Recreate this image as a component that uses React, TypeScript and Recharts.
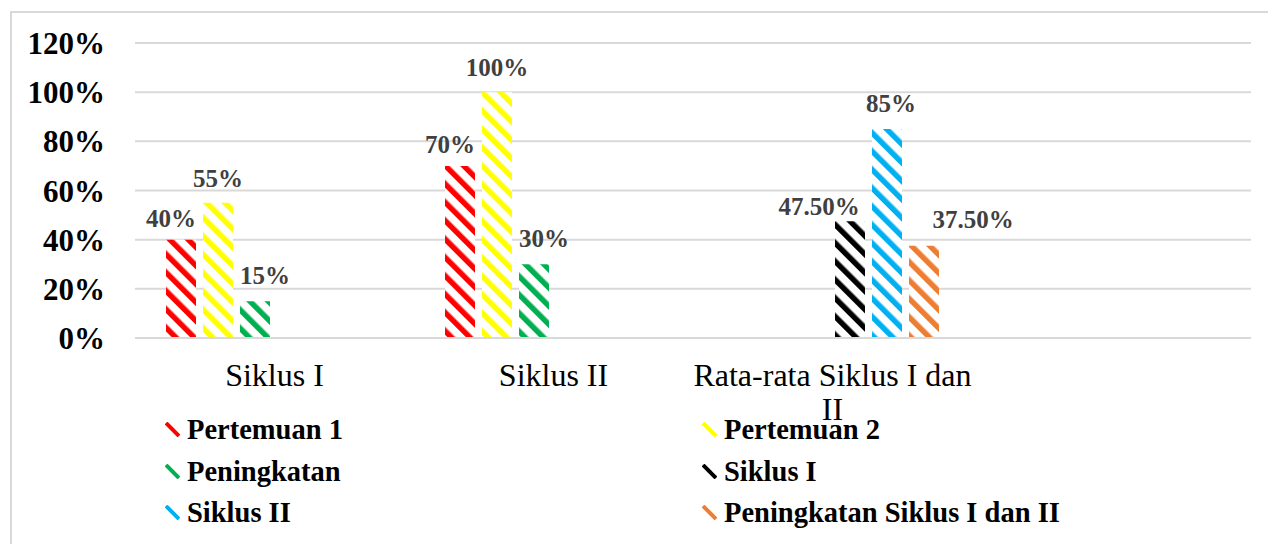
import React from 'react';
import { BarChart, Bar, XAxis, YAxis, CartesianGrid, LabelList } from 'recharts';

const FONT = '"Liberation Serif", "Times New Roman", serif';

// categories on the x axis (the last slot is empty, as in the original sheet)
const categories = ['Siklus I', 'Siklus II', 'Rata-rata Siklus I dan II', ''];

// values in percent
const pertemuan1 = [40, 70, null, null];
const pertemuan2 = [55, 100, null, null];
const peningkatan = [15, 30, null, null];
const siklus1 = [null, null, 47.5, null];
const siklus2 = [null, null, 85, null];
const peningkatanSiklus = [null, null, 37.5, null];

const yTicks = [0, 20, 40, 60, 80, 100, 120];

// label nudges copy the hand-placed labels of the original
const series = [
  { key: 'p1', name: 'Pertemuan 1', values: pertemuan1, color: '#ff0000', dx: -10, dy: 13 },
  { key: 'p2', name: 'Pertemuan 2', values: pertemuan2, color: '#ffff00', dx: 0, dy: 16 },
  { key: 'pen', name: 'Peningkatan', values: peningkatan, color: '#00b050', dx: 10, dy: 17 },
  { key: 's1', name: 'Siklus I', values: siklus1, color: '#000000', dx: -31, dy: 6 },
  { key: 's2', name: 'Siklus II', values: siklus2, color: '#00b0f0', dx: 4, dy: 17 },
  { key: 'ps', name: 'Peningkatan Siklus I dan II', values: peningkatanSiklus, color: '#ed7d31', dx: 49, dy: 18 },
];

const data = categories.map((name, i) => {
  const row: Record<string, any> = { name };
  series.forEach((s) => {
    row[s.key] = s.values[i];
  });
  return row;
});

const fmt = (v: number) => (Number.isInteger(v) ? `${v}%` : `${v.toFixed(2)}%`);

const X_FONT_SIZE = 32;
const X_WRAP = 279;

let ctx: CanvasRenderingContext2D | null = null;
function wrap(text: string, maxWidth: number): string[] {
  if (!ctx) ctx = document.createElement('canvas').getContext('2d');
  if (!ctx) return [text];
  ctx.font = `${X_FONT_SIZE}px ${FONT}`;
  const lines: string[] = [];
  let cur = '';
  text.split(' ').forEach((w) => {
    const next = cur ? `${cur} ${w}` : w;
    if (cur && ctx!.measureText(next).width > maxWidth) {
      lines.push(cur);
      cur = w;
    } else {
      cur = next;
    }
  });
  if (cur) lines.push(cur);
  return lines;
}

const XTick = (props: any) => {
  const { x, y, payload } = props;
  const lines = wrap(String(payload.value), X_WRAP);
  return (
    <text x={x} y={y + 40} textAnchor="middle" fill="#000" fontFamily={FONT} fontSize={X_FONT_SIZE}>
      {lines.map((l, i) => (
        <tspan key={i} x={x} dy={i === 0 ? 0 : 34}>
          {l}
        </tspan>
      ))}
    </text>
  );
};

const makeLabel = (dx: number, dy: number) => (props: any) => {
  const { x, y, width, value } = props;
  if (value == null) return null;
  return (
    <text
      x={x + width / 2 + dx}
      y={y - dy}
      textAnchor="middle"
      fill="#404040"
      fontFamily={FONT}
      fontWeight="bold"
      fontSize={25}
    >
      {fmt(value)}
    </text>
  );
};

function Legend() {
  return (
    <div
      style={{
        position: 'absolute',
        left: 165,
        top: 409,
        display: 'grid',
        gridTemplateColumns: '537px auto',
        fontFamily: FONT,
        fontWeight: 'bold',
        fontSize: 28.5,
        lineHeight: '41.5px',
        color: '#000',
      }}
    >
      {series.map((s) => (
        <div key={s.key} style={{ display: 'flex', alignItems: 'center', whiteSpace: 'nowrap' }}>
          <svg width={15} height={15} style={{ marginRight: 7, flexShrink: 0 }}>
            <line x1={1} y1={1} x2={14} y2={14} stroke={s.color} strokeWidth={4} />
          </svg>
          <span>{s.name}</span>
        </div>
      ))}
    </div>
  );
}

export default function App() {
  return (
    <div style={{ position: 'fixed', left: 0, top: 0, width: 1268, height: 544, background: '#fff', overflow: 'hidden' }}>
      <div
        style={{
          position: 'absolute',
          left: 10,
          top: 11,
          width: 1400,
          height: 700,
          border: '2px solid #d9d9d9',
        }}
      />
      <div style={{ position: 'absolute', left: 0, top: 0 }}>
        <BarChart
          width={1268}
          height={544}
          data={data}
          margin={{ top: 43, right: 17, left: 10, bottom: 0 }}
          barCategoryGap={31}
          barGap={7}
        >
          <defs>
            {series.map((s) => (
              <pattern
                key={s.key}
                id={`pat-${s.key}`}
                patternUnits="userSpaceOnUse"
                width={13}
                height={13}
                patternTransform="rotate(-45)"
              >
                <rect width={13} height={13} fill="#ffffff" />
                <rect x={0} y={0} width={5.5} height={13} fill={s.color} />
              </pattern>
            ))}
          </defs>
          <CartesianGrid vertical={false} stroke="#d9d9d9" strokeWidth={2} />
          <XAxis
            dataKey="name"
            height={206}
            axisLine={{ stroke: '#d9d9d9', strokeWidth: 2 }}
            tickLine={false}
            interval={0}
            tick={<XTick />}
          />
          <YAxis
            width={125}
            domain={[0, 120]}
            ticks={yTicks}
            interval={0}
            axisLine={false}
            tickLine={false}
            tickSize={0}
            tickMargin={30}
            tickFormatter={(v) => `${v}%`}
            tick={{ fill: '#000', fontSize: 31, fontWeight: 'bold', fontFamily: FONT }}
          />
          {series.map((s) => (
            <Bar key={s.key} dataKey={s.key} name={s.name} fill={`url(#pat-${s.key})`} isAnimationActive={false}>
              <LabelList dataKey={s.key} content={makeLabel(s.dx, s.dy)} />
            </Bar>
          ))}
        </BarChart>
      </div>
      <Legend />
    </div>
  );
}
